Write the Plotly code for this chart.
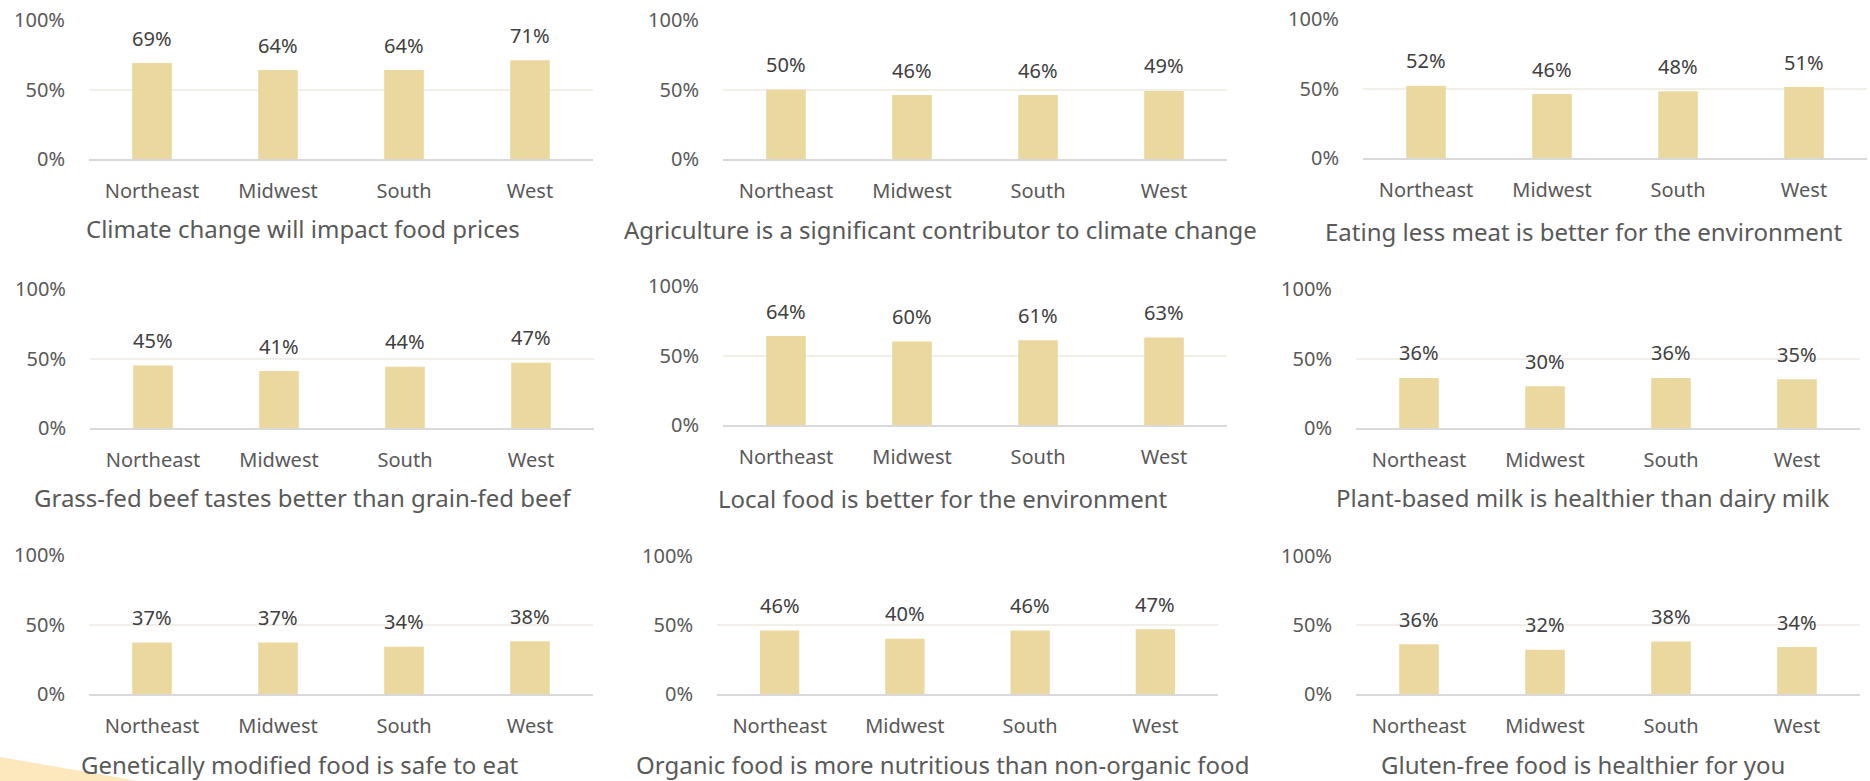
import plotly.graph_objects as go

# ---------------- data ----------------
regions = ["Northeast", "Midwest", "South", "West"]
tick_vals = [0, 0.5, 1]
tick_text = ["0%", "50%", "100%"]

titles = [
    "Climate change will impact food prices",
    "Agriculture is a significant contributor to climate change",
    "Eating less meat is better for the environment",
    "Grass-fed beef tastes better than grain-fed beef",
    "Local food is better for the environment",
    "Plant-based milk is healthier than dairy milk",
    "Genetically modified food is safe to eat",
    "Organic food is more nutritious than non-organic food",
    "Gluten-free food is healthier for you",
]

climate_prices = [69, 64, 64, 71]
agriculture_climate = [50, 46, 46, 49]
less_meat = [52, 46, 48, 51]
grass_fed = [45, 41, 44, 47]
local_food = [64, 60, 61, 63]
plant_milk = [36, 30, 36, 35]
gmo_safe = [37, 37, 34, 38]
organic = [46, 40, 46, 47]
gluten_free = [36, 32, 38, 34]

series = [climate_prices, agriculture_climate, less_meat,
          grass_fed, local_food, plant_milk,
          gmo_safe, organic, gluten_free]

# ---------------- layout (pixels) ----------------
W, H = 1870, 781
# plot boxes: (x0, x1, y_top(100%), y_bottom(0%))
boxes = [
    (89, 593, 20, 159), (723, 1227, 20, 159), (1363, 1867, 19, 158),
    (90, 594, 289, 428), (723, 1227, 286, 425), (1356, 1860, 289, 428),
    (89, 593, 555, 694), (717, 1218, 556, 694), (1356, 1860, 556, 694),
]
title_centers = [
    (303, 228), (940, 229), (1584, 232),
    (303, 497), (943, 498), (1583, 497),
    (300, 764), (942, 764), (1583, 764),
]

BAR = "#EBD89F"
TXT = "#595959"
LBL = "#404040"
GRID = "#F2EEE8"
AXIS = "#D9D9D9"
FONT = "Noto Sans"

fig = go.Figure()
layout = {}
for i, vals in enumerate(series):
    k = i + 1
    xa = "x" if k == 1 else f"x{k}"
    ya = "y" if k == 1 else f"y{k}"
    x0, x1, yt, yb = boxes[i]
    fig.add_trace(go.Bar(
        x=regions, y=[v / 100 for v in vals], xaxis=xa, yaxis=ya,
        marker=dict(color=BAR, line=dict(width=0)), width=0.314,
        showlegend=False, hoverinfo="skip",
    ))
    for r, v in zip(regions, vals):
        fig.add_annotation(x=r, y=v / 100, xref=xa, yref=ya, text=f"{v}%",
                           showarrow=False, yanchor="middle", yshift=25,
                           font=dict(family=FONT, size=20, color=LBL))
    layout["xaxis" if k == 1 else f"xaxis{k}"] = dict(
        domain=[x0 / W, x1 / W], anchor=ya, range=[-0.5, 3.5],
        showgrid=False, zeroline=False, showline=True, linecolor=AXIS,
        linewidth=2, ticks="outside", ticklen=13, tickcolor="rgba(0,0,0,0)",
        tickfont=dict(family=FONT, size=20, color=TXT), fixedrange=True,
        automargin=False,
    )
    layout["yaxis" if k == 1 else f"yaxis{k}"] = dict(
        domain=[1 - yb / H, 1 - yt / H], anchor=xa, range=[0, 1],
        tickvals=tick_vals, ticktext=tick_text, showgrid=True,
        gridcolor=GRID, gridwidth=1.5, zeroline=False, showline=False,
        ticks="outside", ticklen=19, tickcolor="rgba(0,0,0,0)",
        tickfont=dict(family=FONT, size=20, color=TXT), fixedrange=True,
        automargin=False,
    )
    tx, ty = title_centers[i]
    fig.add_annotation(x=tx / W, y=1 - ty / H, xref="paper", yref="paper",
                       text=titles[i], showarrow=False, xanchor="center",
                       yanchor="middle", borderpad=0,
                       font=dict(family=FONT, size=24, color=TXT))

# decorative corner shape (bottom-left)
fig.add_shape(type="path", xref="paper", yref="paper",
              path=f"M 0 {1 - 757 / H} L {138 / W} 0 L 0 0 Z",
              fillcolor="#FDE7BC", line=dict(width=0), layer="below")

fig.update_layout(
    width=W, height=H,
    margin=dict(l=0, r=0, t=0, b=0, pad=0, autoexpand=False),
    paper_bgcolor="white", plot_bgcolor="white",
    font=dict(family=FONT, color=TXT), showlegend=False, **layout,
)

fig.write_html("out.html")
